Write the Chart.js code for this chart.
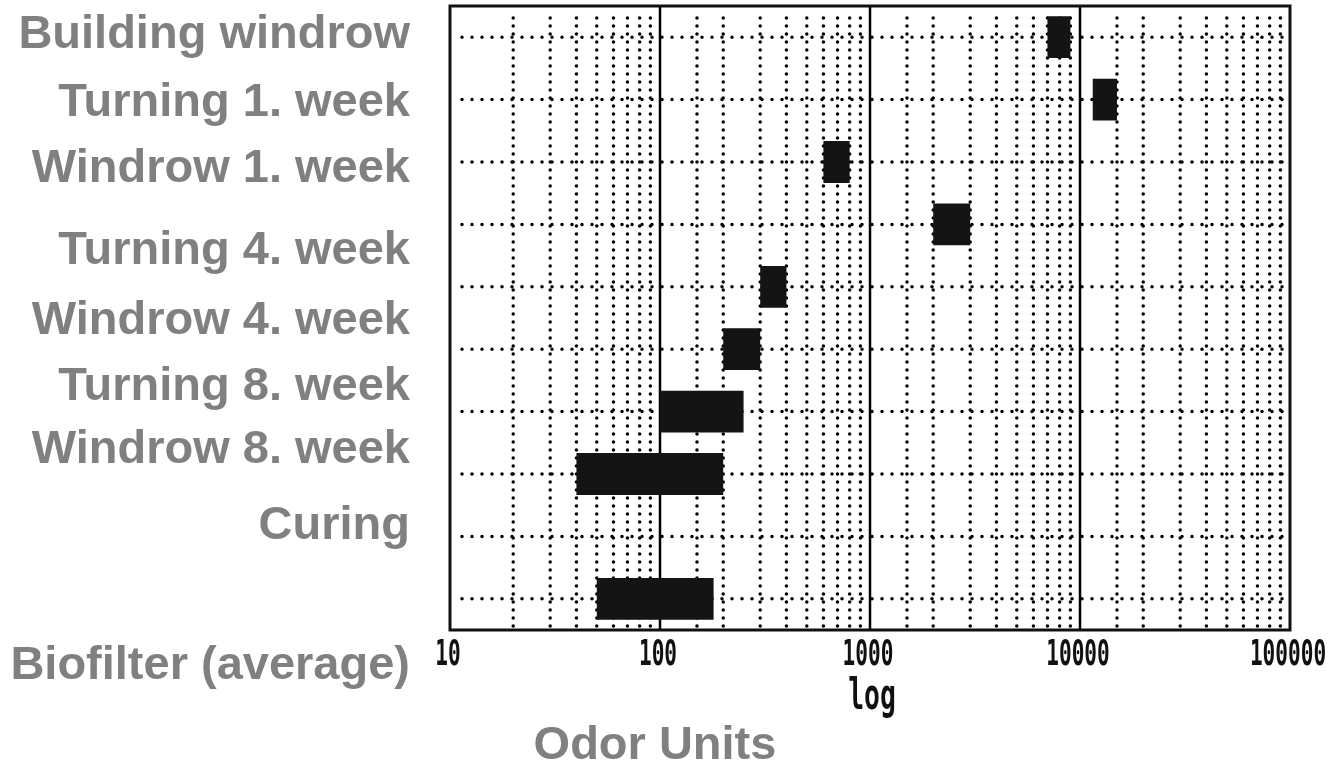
<!DOCTYPE html>
<html>
<head>
<meta charset="utf-8">
<title>Odor Units</title>
<script src="https://cdn.jsdelivr.net/npm/chart.js@4.4.1/dist/chart.umd.min.js"></script>
<style>
  html, body { margin: 0; padding: 0; background: #fff; }
  #wrap { position: relative; width: 1335px; height: 763px; }
</style>
</head>
<body>
<div id="wrap"><canvas id="odorChart" width="1335" height="763"></canvas></div>
<script>
// datos
const categories = ['Building windrow', 'Turning 1. week', 'Windrow 1. week', 'Turning 4. week',
  'Windrow 4. week', 'Turning 8. week', 'Windrow 8. week', 'Curing', '', 'Biofilter (average)'];
const lowValues  = [7000, 11500, 600, 2000, 300, 200, 100, 40, null, 50];
const highValues = [9000, 15000, 800, 3000, 400, 300, 250, 200, null, 180];
const tickLabels = [10, 100, 1000, 10000, 100000];
const axisTitle = 'Odor Units';
const scaleNote = 'log';

// posicion de las etiquetas (en la figura original no coinciden con las filas)
const labelBaselines = [48, 116, 182, 264, 334, 400, 463, 539, null, 679];

const ranges = lowValues.map((lo, i) => lo === null ? null : [lo, highValues[i]]);

const paperGrid = {
  id: 'paperGrid',
  beforeDatasetsDraw(chart) {
    const { ctx, chartArea: a, scales: { x, y } } = chart;
    ctx.save();
    ctx.strokeStyle = '#000';
    // filas punteadas
    ctx.lineWidth = 3.5;
    ctx.lineCap = 'round';
    ctx.setLineDash([0, 10]);
    categories.forEach((c, i) => {
      const py = y.getPixelForValue(i);
      ctx.beginPath();
      ctx.moveTo(a.left + 12, py);
      ctx.lineTo(a.right - 4, py);
      ctx.stroke();
    });
    // columnas: decadas solidas, intermedias punteadas
    x.ticks.forEach(t => {
      const px = x.getPixelForValue(t.value);
      if (px <= a.left + 2 || px >= a.right - 2) return;
      const lg = Math.log10(t.value);
      const major = Math.abs(lg - Math.round(lg)) < 1e-9;
      ctx.beginPath();
      if (major) {
        ctx.setLineDash([]);
        ctx.lineWidth = 2.5;
        ctx.lineCap = 'butt';
        ctx.moveTo(px, a.top);
      } else {
        ctx.setLineDash([0, 8]);
        ctx.lineWidth = 3.5;
        ctx.lineCap = 'round';
        ctx.moveTo(px, a.top + 12);
      }
      ctx.lineTo(px, a.bottom);
      ctx.stroke();
    });
    ctx.restore();
  },
  afterDatasetsDraw(chart) {
    const { ctx, chartArea: a, scales: { x } } = chart;
    ctx.save();
    // marco
    ctx.strokeStyle = '#111';
    ctx.lineWidth = 3;
    ctx.setLineDash([]);
    ctx.strokeRect(a.left, a.top, a.right - a.left, a.bottom - a.top);

    // etiquetas del eje x (letra estrecha)
    ctx.fillStyle = '#111';
    ctx.textAlign = 'center';
    ctx.textBaseline = 'middle';
    tickLabels.forEach(v => {
      const px = x.getPixelForValue(v);
      ctx.save();
      ctx.translate(px - 2, 656);
      ctx.scale(0.62, 1.05);
      ctx.font = 'bold 34px "DejaVu Sans Mono"';
      ctx.fillText(String(v), 0, 0);
      ctx.restore();
    });
    ctx.save();
    ctx.translate((a.left + a.right) / 2 + 2, 698);
    ctx.scale(0.66, 1.05);
    ctx.font = 'bold 40px "DejaVu Sans Mono"';
    ctx.fillText(scaleNote, 0, 0);
    ctx.restore();

    // categorias y titulo en gris
    ctx.fillStyle = '#808080';
    ctx.font = 'bold 47px "Liberation Sans", Arial, sans-serif';
    ctx.textBaseline = 'alphabetic';
    ctx.textAlign = 'right';
    categories.forEach((c, i) => {
      if (c && labelBaselines[i] !== null) ctx.fillText(c, 410, labelBaselines[i]);
    });
    ctx.textAlign = 'center';
    ctx.fillText(axisTitle, 655, 759);
    ctx.restore();
  }
};

const odorCtx = document.getElementById('odorChart').getContext('2d');
new Chart(odorCtx, {
  type: 'bar',
  data: {
    labels: categories,
    datasets: [{
      label: axisTitle,
      data: ranges,
      backgroundColor: '#141414',
      borderWidth: 0,
      borderSkipped: false,
      barPercentage: 0.67,
      categoryPercentage: 1
    }]
  },
  options: {
    indexAxis: 'y',
    responsive: false,
    animation: false,
    devicePixelRatio: 1,
    layout: { padding: { left: 450, right: 45, top: 6, bottom: 133 } },
    plugins: {
      legend: { display: false },
      tooltip: { enabled: false }
    },
    scales: {
      x: {
        type: 'logarithmic',
        min: 10,
        max: 100000,
        display: false,
        ticks: { autoSkip: false }
      },
      y: {
        type: 'category',
        offset: true,
        display: false
      }
    }
  },
  plugins: [paperGrid]
});
</script>
</body>
</html>
